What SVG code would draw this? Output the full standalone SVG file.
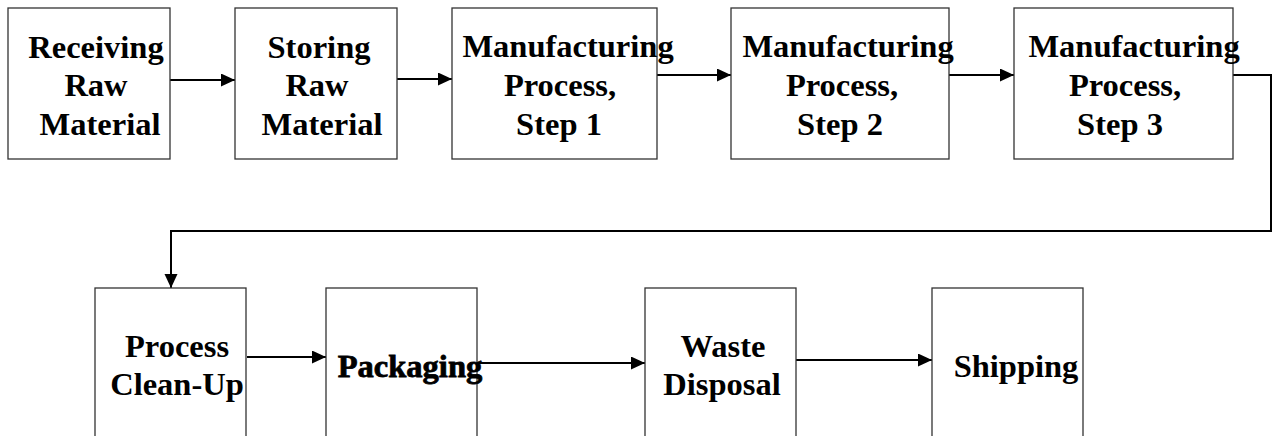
<svg xmlns="http://www.w3.org/2000/svg" width="1275" height="436" viewBox="0 0 1275 436">
<style>
.box{fill:#fff;stroke:#333;stroke-width:1.3}
.t{font-family:'Liberation Serif','DejaVu Serif',serif;font-weight:700;font-size:32.5px;fill:#000;text-anchor:middle}
.c{fill:none;stroke:#000;stroke-width:2}
</style>
<defs>
<marker id="ah" markerUnits="userSpaceOnUse" markerWidth="15" markerHeight="14" refX="14" refY="6.5" orient="auto">
<path d="M0,0 L14,6.5 L0,13 Z" fill="#000"/>
</marker>
</defs>
<rect width="1275" height="436" fill="#fff"/>
<g id="connectors">
<line class="c" x1="170" y1="80" x2="235" y2="80" marker-end="url(#ah)"/>
<line class="c" x1="397" y1="79" x2="452" y2="79" marker-end="url(#ah)"/>
<line class="c" x1="657" y1="75" x2="731" y2="75" marker-end="url(#ah)"/>
<line class="c" x1="949" y1="75" x2="1014" y2="75" marker-end="url(#ah)"/>
<polyline class="c" points="1233,75 1271,75 1271,231 171,231 171,288" marker-end="url(#ah)"/>
<line class="c" x1="247" y1="357" x2="326" y2="357" marker-end="url(#ah)"/>
<line class="c" x1="477" y1="363" x2="645" y2="363" marker-end="url(#ah)"/>
<line class="c" x1="796" y1="360" x2="932" y2="360" marker-end="url(#ah)"/>
</g>
<g id="n1"><rect class="box" x="8" y="8" width="162" height="151"/>
<text class="t"><tspan x="96" y="58">Receiving</tspan><tspan x="96" y="96">Raw</tspan><tspan x="100" y="135">Material</tspan></text></g>
<g id="n2"><rect class="box" x="235" y="8" width="162" height="151"/>
<text class="t"><tspan x="319" y="58">Storing</tspan><tspan x="317" y="96">Raw</tspan><tspan x="322" y="135">Material</tspan></text></g>
<g id="n3"><rect class="box" x="452" y="8" width="205" height="151"/>
<text class="t"><tspan x="568" y="57">Manufacturing</tspan><tspan x="560" y="96">Process,</tspan><tspan x="559" y="135">Step 1</tspan></text></g>
<g id="n4"><rect class="box" x="731" y="8" width="218" height="151"/>
<text class="t"><tspan x="848" y="57">Manufacturing</tspan><tspan x="842" y="96">Process,</tspan><tspan x="840" y="135">Step 2</tspan></text></g>
<g id="n5"><rect class="box" x="1014" y="8" width="219" height="151"/>
<text class="t"><tspan x="1134" y="57">Manufacturing</tspan><tspan x="1125" y="96">Process,</tspan><tspan x="1120" y="135">Step 3</tspan></text></g>
<g id="n6"><rect class="box" x="95" y="288" width="151" height="160"/>
<text class="t"><tspan x="177" y="357">Process</tspan><tspan x="177" y="395">Clean-Up</tspan></text></g>
<g id="n7"><rect class="box" x="326" y="288" width="151" height="160"/>
<text class="t" x="410" y="377" stroke="#000" stroke-width="0.8">Packaging</text></g>
<g id="n8"><rect class="box" x="645" y="288" width="151" height="160"/>
<text class="t"><tspan x="723" y="357">Waste</tspan><tspan x="722" y="395">Disposal</tspan></text></g>
<g id="n9"><rect class="box" x="932" y="288" width="151" height="160"/>
<text class="t" x="1016" y="377">Shipping</text></g>
</svg>
